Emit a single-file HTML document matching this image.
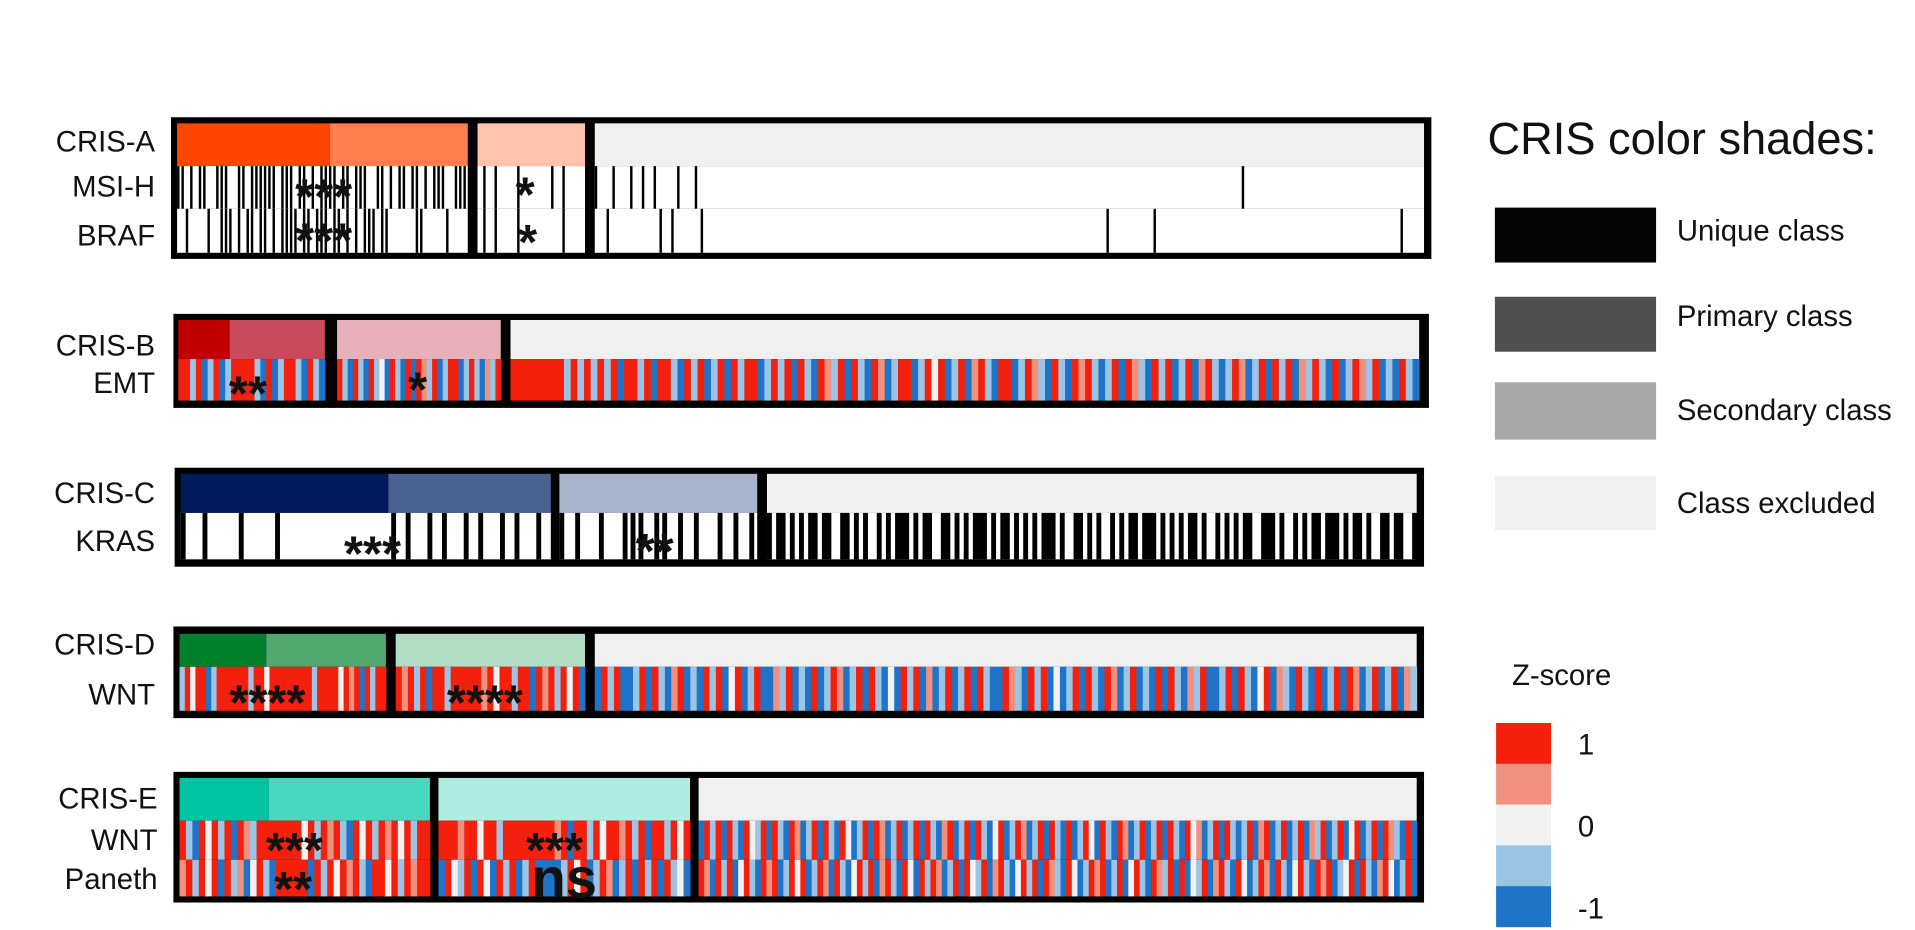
<!DOCTYPE html>
<html><head><meta charset="utf-8"><style>
html,body{margin:0;padding:0;background:#fff;}
svg{display:block;font-family:"Liberation Sans",Arial,sans-serif;}
</style></head><body>
<svg id="fig" width="1915" height="930" viewBox="0 0 1568 761.5" preserveAspectRatio="none">
<g id="labels" font-size="24" text-anchor="end" fill="#111">
<text x="127" y="124">CRIS-A</text>
<text x="127" y="161">MSI-H</text>
<text x="127" y="201">BRAF</text>
<text x="127" y="291">CRIS-B</text>
<text x="127" y="322">EMT</text>
<text x="127" y="412">CRIS-C</text>
<text x="127" y="451">KRAS</text>
<text x="127" y="536">CRIS-D</text>
<text x="127" y="577">WNT</text>
<text x="129" y="662">CRIS-E</text>
<text x="129" y="696">WNT</text>
<text x="129" y="728">Paneth</text>
</g>
<g id="panels"></g>
<g id="stars" font-weight="bold" fill="#111" text-anchor="middle">
<text x="265" y="175" font-size="40">***</text>
<text x="265" y="211" font-size="40">***</text>
<text x="430" y="173" font-size="40">*</text>
<text x="432" y="212" font-size="40">*</text>
<text x="203" y="336" font-size="40">**</text>
<text x="342" y="333" font-size="40">*</text>
<text x="305" y="467" font-size="40">***</text>
<text x="536" y="465" font-size="40">**</text>
<text x="219" y="589" font-size="40">****</text>
<text x="397" y="589" font-size="40">****</text>
<text x="241" y="710" font-size="40">***</text>
<text x="454" y="710" font-size="40">***</text>
<text x="240" y="742" font-size="40">**</text>
<text x="462" y="735" font-size="46">ns</text>
</g>
<g id="legend">
<text x="1218" y="126" font-size="37" fill="#111">CRIS color shades:</text>
<rect x="1224" y="170" width="132" height="45" fill="#050505"/>
<text x="1373" y="197" font-size="24" fill="#111">Unique class</text>
<rect x="1224" y="243" width="132" height="45" fill="#505050"/>
<text x="1373" y="267" font-size="24" fill="#111">Primary class</text>
<rect x="1224" y="313" width="132" height="47" fill="#a8a8a8"/>
<text x="1373" y="344" font-size="24" fill="#111">Secondary class</text>
<rect x="1224" y="390" width="132" height="44" fill="#f0f0f0"/>
<text x="1373" y="420" font-size="24" fill="#111">Class excluded</text>
</g>
<g id="zlegend">
<text x="1238" y="561" font-size="24" fill="#111">Z-score</text>
</g>
</svg>
<script>
// value levels: R=1, r=0.5, w=0, l=-0.5, B=-1
const zTicks = ['1','0','-1'];
const zLevels = ['R','r','w','l','B'];
// binary rows (1 = mutated/MSI)
const msiS1 = "1101011001110011011111101110110101111011011100110101101101011100111";
const msiS2 = "0101000100000101000";
const msiS3 = "100100101010001001000000000000000000000000000000000000000000000000000000000000000000000000000000000000000000001000000000000000000000000000000";
const brafS1 = "0010000100111010110110101111011011101101010111011000000110000010000";
const brafS2 = "0101000100000001000";
const brafS3 = "001000000001010000100000000000000000000000000000000000000000000000000000000000000000000100000001000000000000000000000000000000000000000001000";
const krasS1 = "100100001000010000000000000001010010100101001010010";
const krasS2 = "1010010011101101010010101";
const krasS3 = "1011010101101100110101001010111010110011010101110101101010101110100110101001010110111010101011010010101011001110100101011011101011010011011001";
// heat rows
const emtS1 = "RRlRBlRBlRRRRlBRBlRRlBRlB";
const emtS2 = "RlBRlBRlwBRlBRBRrlRBlRRBlRlBrlR";
const emtS3 = "RRRRRRRRlRlRlRlRBRRlRBRRlBRlRBlRBRlRRBlRlRBRlBRrlRBRlBRrBlRRBlRwRBlRBrRlBRRBlRrlBRlBRrRlBlRBRrlBRlRBlRBrRlBlRrBlRBRlRBrlRlBRBlRrlRBlBRlB";
const wntDS1 = "lRwRRBlRRRRRRlRRwRRRRRRRRlRRRRwRrRBRlRR";
const wntDS2 = "RrRlRBRRlRRRRRrRwRRlRRBRrRlRwRB";
const wntDS3 = "BRlRBBlRBRlBrRBlBRlRBwRBlRBBrlRBlBRBlRrBlRBRlBwBRlRBrBlRBlRBRlBBRrlBRlRBwBlRBRlBRrBlRBlBRBRlBrlRBBlRBRlBwRBrlBRlBRBlRBRrBlRBlRBrl";
const wntES1 = "RlBRwRlRBRrlRRRRRRRwRlRrRlBRwRlRrRwRlRR";
const wntES2 = "RRRrRRwRRlRRRRRRRRrRBRRlRwRRrRlRBRRlRwR";
const wntES3 = "BRlRBRlBRwlRBRlBRrBlRBRlBRwBlRBRrBlRBlRBRlBrRBlRBRlBwRBlRrBlRBRlBRBlRwBRlBRrBlRBlRBRlBRwrBlRBRlBlRBrRBlRBlRBrlRBlRBwRBlRBRrlBRB";
const panS1 = "rRlRwRBRlrBwRlBRRRRRBRlRwRrRlBRRwRlRrRR";
const panS2 = "BRwlRBRwBRlRBlRBBBBlRwRBlRrBlRBRlRBRlwB";
const panS3 = "RrBRlRBwRlBRrRBlRwRBlRrBRlBwRlRBrRlBRwBRlRrBlRBRwlRBrRlBwRlRBRrlBRwBlRrRBlRBwRlBRrlRBRBwlRBrRlBRwBlRrBRlBwRlBRrRBlwRBRlBrRwBlRB";

const COL = {R:'#f2200c', r:'#f0907f', w:'#f2f2f2', l:'#9cc4e4', B:'#1f74c8'};
const NS = 'http://www.w3.org/2000/svg';
const panels = document.getElementById('panels');

function mk(tag, attrs, parent){
  const e = document.createElementNS(NS, tag);
  for (const k in attrs) e.setAttribute(k, attrs[k]);
  parent.appendChild(e);
  return e;
}
function xScale(x0, x1, n){ return i => x0 + i*(x1-x0)/n; }

function heatRow(g, x0, x1, y0, y1, str, name){
  const sx = xScale(x0, x1, str.length);
  for (let i=0;i<str.length;i++){
    const r = mk('rect', {x:sx(i), y:y0, width:sx(i+1)-sx(i)+0.4, height:y1-y0, fill:COL[str[i]]}, g);
    
    
  }
}
function binRow(g, x0, x1, y0, y1, str, name, w){
  mk('rect', {x:x0, y:y0, width:x1-x0, height:y1-y0, fill:'#fff'}, g);
  const sx = xScale(x0, x1, str.length);
  for (let i=0;i<str.length;i++){
    if (str[i]!=='1') continue;
    const r = mk('rect', {x:sx(i), y:y0, width:w, height:y1-y0, fill:'#000'}, g);
    
    
  }
}
function panel(spec){
  const g = mk('g', {}, panels);
  
  
  mk('rect', {x:spec.box[0], y:spec.box[1], width:spec.box[2]-spec.box[0], height:spec.box[3]-spec.box[1], fill:'#000'}, g);
  spec.sections.forEach((s, si) => {
    s.head.forEach(h => {
      const r = mk('rect', {x:h[0], y:spec.hy[0], width:h[1]-h[0], height:spec.hy[1]-spec.hy[0], fill:h[2]}, g);
      
      
    });
    spec.rows.forEach((row) => {
      if (row.type==='bin') binRow(g, s.x0, s.x1, row.y0, row.y1, row.data[si], row.name, row.w);
      else heatRow(g, s.x0, s.x1, row.y0, row.y1, row.data[si], row.name);
    });
  });
}
panel({name:'panel-cris-a', box:[140,96,1172,212], hy:[101,136],
  sections:[{x0:145,x1:383,head:[[145,270,'#ff4500'],[270,383,'#ff7f50']]},
            {x0:391,x1:479,head:[[391,479,'#ffc3ab']]},
            {x0:487,x1:1166,head:[[487,1166,'#f0f0f0']]}],
  rows:[{type:'bin',name:'msi-h',y0:136,y1:171,w:2,data:[msiS1,msiS2,msiS3]},
        {type:'bin',name:'braf',y0:171,y1:207,w:2,data:[brafS1,brafS2,brafS3]}]});
panel({name:'panel-cris-b', box:[142,257,1170,334], hy:[262,294],
  sections:[{x0:146,x1:266,head:[[146,188,'#c00000'],[188,266,'#c84a5c']]},
            {x0:276,x1:410,head:[[276,410,'#e8b0bb']]},
            {x0:418,x1:1162,head:[[418,1162,'#f0f0f0']]}],
  rows:[{type:'heat',name:'emt',y0:294,y1:328,data:[emtS1,emtS2,emtS3]}]});
panel({name:'panel-cris-c', box:[143,383,1166,464], hy:[388,420],
  sections:[{x0:148,x1:451,head:[[148,318,'#001a5c'],[318,451,'#4a6290']]},
            {x0:458,x1:620,head:[[458,620,'#a8b4cc']]},
            {x0:628,x1:1160,head:[[628,1160,'#f0f0f0']]}],
  rows:[{type:'bin',name:'kras',y0:420,y1:458,w:4,data:[krasS1,krasS2,krasS3]}]});
panel({name:'panel-cris-d', box:[142,513,1166,588], hy:[519,546],
  sections:[{x0:147,x1:316,head:[[147,218,'#00802b'],[218,316,'#50a870']]},
            {x0:324,x1:479,head:[[324,479,'#b2dcc4']]},
            {x0:487,x1:1160,head:[[487,1160,'#f0f0f0']]}],
  rows:[{type:'heat',name:'wnt-d',y0:546,y1:582,data:[wntDS1,wntDS2,wntDS3]}]});
panel({name:'panel-cris-e', box:[142,632,1166,739], hy:[637,672],
  sections:[{x0:147,x1:352,head:[[147,220,'#00c4a0'],[220,352,'#48d8c0']]},
            {x0:359,x1:565,head:[[359,565,'#b0ece2']]},
            {x0:572,x1:1160,head:[[572,1160,'#f0f0f0']]}],
  rows:[{type:'heat',name:'wnt-e',y0:672,y1:704,data:[wntES1,wntES2,wntES3]},
        {type:'heat',name:'paneth',y0:704,y1:734,data:[panS1,panS2,panS3]}]});

const zl = document.getElementById('zlegend');
zLevels.forEach((lv, i) => {
  const r = mk('rect', {x:1225, y:592+i*33.4, width:45, height:33.6, fill:COL[lv]}, zl);
  
  
});
zTicks.forEach((t, i) => {
  const tx = mk('text', {x:1292, y:618+i*67, 'font-size':24, fill:'#111'}, zl);
  tx.textContent = t;
  
  
});
</script>
</body></html>
